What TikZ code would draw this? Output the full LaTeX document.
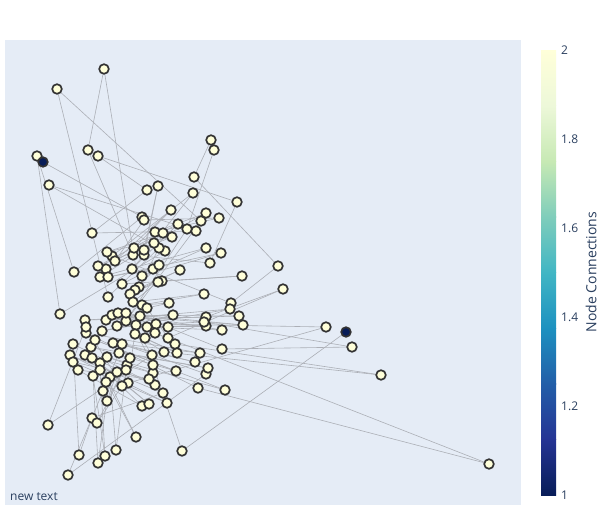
\documentclass[tikz,border=0pt]{standalone}
\usepackage{fontspec}
\setmainfont{Open Sans}
\pgfdeclarelayer{back}
\pgfdeclarelayer{bg}
\pgfsetlayers{back,bg,main}
\definecolor{plotbg}{RGB}{229,236,246}
\definecolor{txt}{RGB}{42,63,95}
\definecolor{yl}{RGB}{255,255,217}
\definecolor{dk}{RGB}{8,29,88}
\definecolor{rim}{RGB}{51,51,51}
\definecolor{edgec}{RGB}{172,175,182}
\definecolor{cA}{RGB}{8,29,88}
\definecolor{cB}{RGB}{37,52,148}
\definecolor{cC}{RGB}{34,94,168}
\definecolor{cD}{RGB}{29,145,192}
\definecolor{cE}{RGB}{65,182,196}
\definecolor{cF}{RGB}{127,205,187}
\definecolor{cG}{RGB}{199,233,180}
\definecolor{cH}{RGB}{237,248,217}
\definecolor{cI}{RGB}{255,255,217}
\tikzset{
  nd/.style={circle, draw=rim, line width=1.7pt, minimum size=9.6pt, inner sep=0pt},
  edgeline/.style={draw=edgec, line width=0.6pt},
  ticklbl/.style={anchor=west, text=txt, font=\fontsize{12}{14}\selectfont, inner sep=0pt},
}
\begin{document}
\begin{tikzpicture}[x=1pt,y=-1pt]
\useasboundingbox (0,0) rectangle (613,525);
\begin{pgfonlayer}{back}
\fill[white] (0,0) rectangle (613,525);
\fill[plotbg] (5,40) rectangle (521,505);
\end{pgfonlayer}
\foreach \x/\y [count=\i] in {
43/162, 142/217, 74/272, 37/156, 60/314, 165/251, 49/185, 196/231, 92/233, 147/190,
98/156, 237/202, 210/263, 133/255, 88/150, 104/69, 139/287, 159/248, 108/297, 57/89,
201/221, 126/321, 187/229, 214/150, 211/140, 194/177, 278/266, 231/303, 112/256, 193/193,
144/255, 158/186, 144/250, 134/248, 171/210, 106/269, 206/213, 155/232, 219/218, 144/220,
115/261, 163/233, 107/252, 172/237, 98/266, 178/224, 132/269, 154/243, 100/277, 206/248,
142/276, 221/253, 108/277, 153/269, 162/281, 242/276, 122/284, 159/265, 135/290, 180/270,
130/294, 158/282, 133/302, 204/294, 142/305, 169/303, 147/308, 168/338, 283/289, 206/317,
85/320, 173/315, 102/331, 230/309, 106/320, 239/316, 112/315, 243/325, 118/313, 222/330,
117/326, 206/326, 156/324, 326/327, 128/383, 136/325, 204/322, 352/347, 222/349, 140/316,
168/327, 147/327, 175/344, 381/375, 164/352, 135/334, 177/353, 145/338, 155/333, 489/464,
198/388, 86/333, 200/353, 113/343, 195/362, 122/344, 206/374, 68/475, 119/353, 208/368,
91/347, 176/371, 95/340, 225/390, 107/357, 153/373, 85/355, 155/385, 73/344, 79/455,
92/418, 163/393, 70/355, 167/403, 73/362, 149/379, 78/370, 142/406, 92/358, 149/404,
100/363, 136/437, 100/370, 105/456, 93/376, 98/463, 110/377, 116/450, 127/365, 106/382,
126/370, 103/391, 117/372, 107/401, 130/358, 97/423, 122/386, 86/327, 48/425, 152/355,
126/313, 153/365, 182/451, 346/332}
{
  \ifnum\i=1 \else
    \ifnum\i=154 \def\fc{dk}\else\def\fc{yl}\fi
    \node[nd, fill=\fc] (n\i) at (\x,\y) {};
  \fi
}
\node[nd, fill=dk] (n1) at (43,162) {};
\begin{pgfonlayer}{bg}
\foreach \i [evaluate=\i as \j using int(\i+1)] in {1,...,153}
  \draw[edgeline] (n\i.center) -- (n\j.center);
\end{pgfonlayer}
% colour bar
\shade[bottom color=cA, top color=cB] (541,495) rectangle (556,439.4);
\shade[bottom color=cB, top color=cC] (541,439.6) rectangle (556,383.8);
\shade[bottom color=cC, top color=cD] (541,384) rectangle (556,328.1);
\shade[bottom color=cD, top color=cE] (541,328.3) rectangle (556,272.4);
\shade[bottom color=cE, top color=cF] (541,272.6) rectangle (556,216.8);
\shade[bottom color=cF, top color=cG] (541,217) rectangle (556,161.1);
\shade[bottom color=cG, top color=cH] (541,161.3) rectangle (556,105.4);
\shade[bottom color=cH, top color=cI] (541,105.6) rectangle (556,50);
\node[ticklbl] (t2) at (561,50) {2};
\node[ticklbl] (t18) at (561,139) {1.8};
\node[ticklbl] (t16) at (561,228) {1.6};
\node[ticklbl] (t14) at (561,317) {1.4};
\node[ticklbl] (t12) at (561,406) {1.2};
\node[ticklbl] (t1) at (561,495) {1};
\node[rotate=90, text=txt, font=\fontsize{14}{16}\selectfont, inner sep=0pt] (cbt) at (591,272) {Node Connections};
\node[anchor=south west, text=txt, font=\fontsize{12}{14}\selectfont, inner sep=0pt] (nt) at (10,501) {new text};
\end{tikzpicture}
\end{document}
